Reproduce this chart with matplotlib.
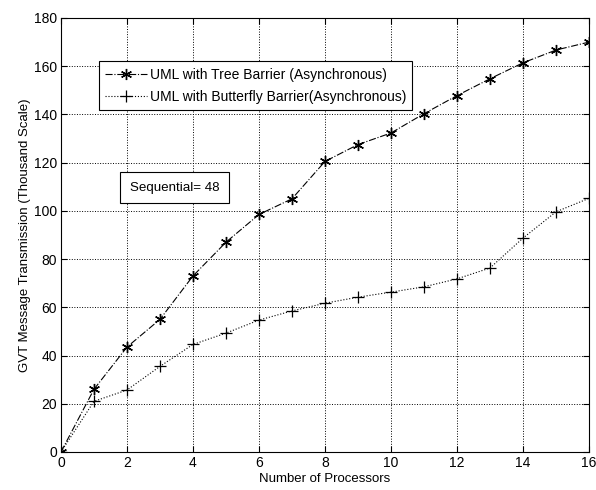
import numpy as np
import matplotlib.pyplot as plt

plt.rcParams['font.family'] = ['Liberation Sans', 'DejaVu Sans']

procs = np.arange(0, 17)
tree = [0, 26, 43.5, 55, 73, 87, 98.5, 105, 120.5, 127.5, 132.3, 140.3, 147.8, 154.8, 161.4, 166.7, 170]
butterfly = [0, 21, 25.7, 35.5, 44.6, 49.3, 54.7, 58.5, 61.7, 64.2, 66.3, 68.5, 71.8, 76.3, 88.7, 99.6, 105.2]

fig = plt.figure(figsize=(5.96, 4.90), dpi=100)
ax = fig.add_axes([0.1023, 0.0776, 0.8859, 0.8857])

ax.plot(procs, tree, color='black', linestyle='-.', linewidth=0.8, marker=(6, 2, 0),
        markersize=8, markeredgewidth=1.0, label='UML with Tree Barrier (Asynchronous)')
ax.plot(procs, butterfly, color='black', linestyle=':', linewidth=0.8, marker='+',
        markersize=9, markeredgewidth=0.9, label='UML with Butterfly Barrier(Asynchronous)')

ax.set_xlim(0, 16)
ax.set_ylim(0, 180)
ax.set_xticks(np.arange(0, 17, 2))
ax.set_yticks(np.arange(0, 181, 20))
ax.grid(True, color='black', linestyle=':', linewidth=0.7)
ax.tick_params(direction='in', top=True, right=True, labelsize=10, length=4, pad=3)
for s in ax.spines.values():
    s.set_linewidth(0.8)

ax.set_xlabel('Number of Processors', fontsize=9.5, labelpad=2)
ax.set_ylabel('GVT Message Transmission (Thousand Scale)', fontsize=9.5, labelpad=2)

leg = ax.legend(loc='upper left', bbox_to_anchor=(0.072, 0.9), fontsize=10,
                frameon=True, fancybox=False, edgecolor='black', framealpha=1,
                handlelength=3.0, borderpad=0.45, labelspacing=0.6, handletextpad=0.2,
                borderaxespad=0)
leg.get_frame().set_linewidth(0.8)

ax.text(0.13, 0.609, 'Sequential= 48', transform=ax.transAxes, fontsize=9.6,
        va='center', ha='left',
        bbox=dict(boxstyle='square,pad=0.7', facecolor='white', edgecolor='black', linewidth=0.8))

fig.savefig('out.png', dpi=100)
